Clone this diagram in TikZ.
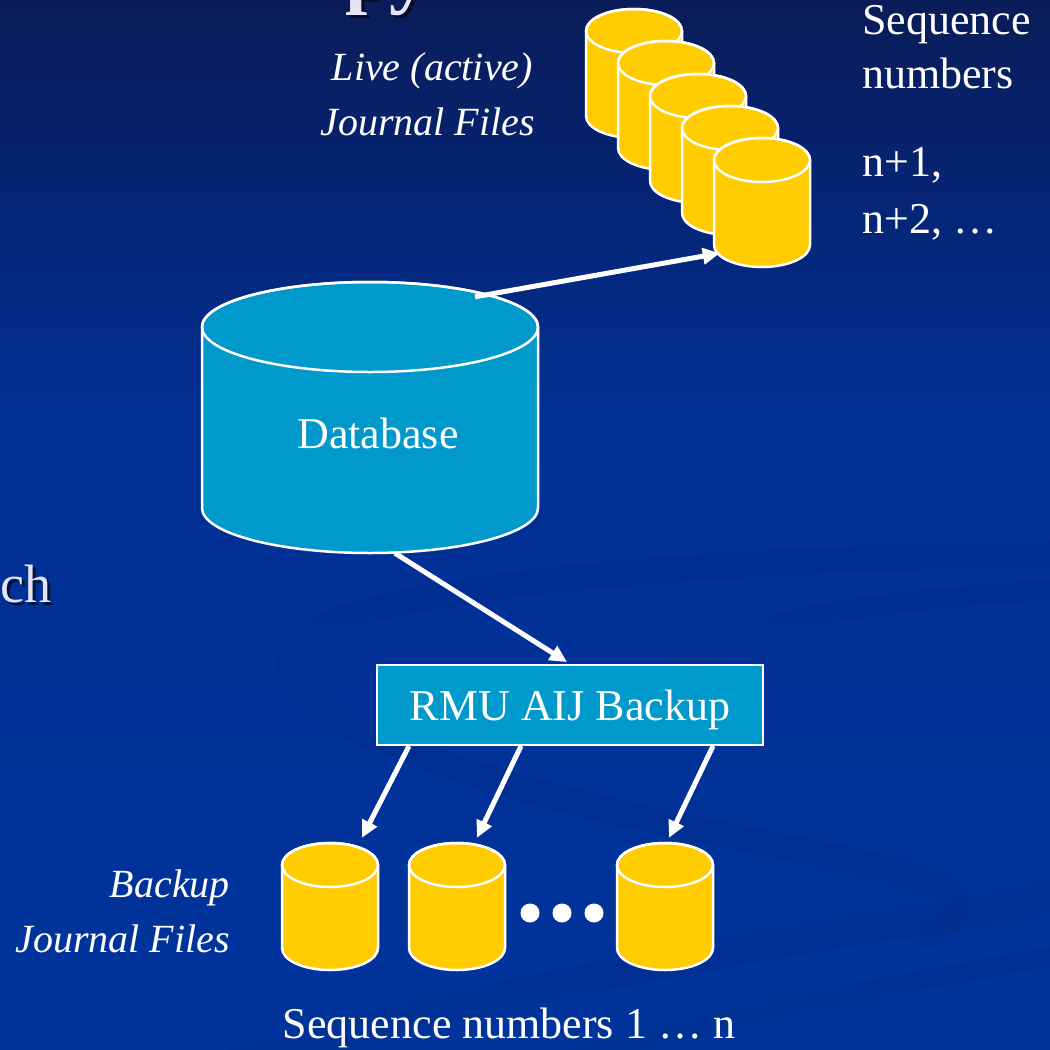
\documentclass[tikz,border=0pt]{standalone}
\usepackage{fontspec}
\setmainfont{Liberation Serif}
\usetikzlibrary{arrows.meta,calc}
\definecolor{bgtop}{HTML}{0A1C58}
\definecolor{bgmid}{HTML}{012F94}
\definecolor{bgbot}{HTML}{00349C}
\definecolor{cylc}{HTML}{FFCC00}
\definecolor{dbc}{HTML}{0099CC}
\definecolor{swoosh}{HTML}{00257A}
\definecolor{titlec}{HTML}{E4E4F6}
\tikzset{
  cylline/.style={draw=white, line width=2.5pt},
  arr/.style={draw=white, line width=5pt, -{Triangle[length=17pt,width=16pt]}},
  txt/.style={text=white, inner sep=0pt, font=\fontsize{44}{52}\selectfont},
  itxt/.style={text=white, inner sep=0pt, font=\fontsize{40}{52}\selectfont\itshape},
  boxnode/.style={draw=white, line width=2pt, fill=dbc, minimum width=386pt, minimum height=80pt, inner sep=0pt, text=white, font=\fontsize{44}{52}\selectfont, text height=30pt, text depth=0pt},
  swo/.style={draw=swoosh, line cap=round, opacity=0.2},
  dotc/.style={fill=white}
}
% name, cx, top-centre y, bottom-centre y (both measured downward), rx, ry, fill
\newcommand\cylnode[7]{%
  \filldraw[cylline, fill=#7] (#2-#5,-#3) -- (#2-#5,-#4)
    arc[start angle=180,end angle=360,x radius=#5,y radius=#6] -- (#2+#5,-#3)
    arc[start angle=0,end angle=180,x radius=#5,y radius=#6] -- cycle;
  \draw[cylline] (#2,-#3) ellipse[x radius=#5,y radius=#6];
  \node[inner sep=0pt, minimum width=2*#5, minimum height=#4-#3+2*#6] (#1) at (#2,{-(#3+#4)/2}) {};
}
\begin{document}
\begin{tikzpicture}[x=1pt,y=1pt]
\useasboundingbox (0,0) rectangle (1050,-1050);
% background
\shade[top color=bgtop, bottom color=bgmid] (0,0) rectangle (1050,-420);
\shade[top color=bgmid, bottom color=bgbot] (0,-420) rectangle (1050,-1050);
% background swooshes
\draw[swo, line width=26pt] (1060,-553) .. controls (700,-560) and (330,-585) .. (292,-650)
   .. controls (260,-720) and (500,-790) .. (700,-830) .. controls (900,-870) and (1010,-885) .. (930,-935);
\draw[swo, line width=20pt] (1060,-590) .. controls (850,-600) and (700,-630) .. (690,-670);
\draw[swo, line width=30pt] (240,-1060) .. controls (600,-960) and (900,-930) .. (1060,-895);
\draw[swo, line width=20pt] (560,-1060) .. controls (800,-1000) and (950,-975) .. (1060,-955);
% partial title and side text
\node[anchor=base west, inner sep=0pt, text=black, opacity=0.6, font=\fontsize{80}{90}\selectfont\bfseries] at (348,-1) {py};
\node[anchor=base west, inner sep=0pt, text=titlec, font=\fontsize{80}{90}\selectfont\bfseries] (title) at (345,2) {py};
\node[anchor=base west, inner sep=0pt, text=black, opacity=0.6, font=\fontsize{54}{60}\selectfont] at (3,-605) {ch};
\node[anchor=base west, inner sep=0pt, text=titlec, font=\fontsize{54}{60}\selectfont] (side) at (0,-602) {ch};
% live journal files
\cylnode{c1}{634}{31}{116}{48}{22}{cylc}
\cylnode{c2}{666}{63}{148}{48}{22}{cylc}
\cylnode{c3}{698}{96}{181}{48}{22}{cylc}
\cylnode{c4}{730}{128}{213}{48}{22}{cylc}
\cylnode{c5}{762}{160}{245}{48}{22}{cylc}
\node[itxt, anchor=base east] (live1) at (533,-80) {Live (active)};
\node[itxt, anchor=base east] (live2) at (535,-135) {Journal Files};
\node[txt, anchor=base west] (seq1) at (862,-34) {Sequence};
\node[txt, anchor=base west] (seq2) at (862,-88) {numbers};
\node[txt, anchor=base west] (seq3) at (862,-176) {n+1,};
\node[txt, anchor=base west] (seq4) at (862,-233) {n+2, \dots};
% database
\cylnode{db}{370}{327}{508}{168}{45}{dbc}
\node[txt, anchor=base] (dbl) at (378,-448) {Database};
% backup box
\node[boxnode] (rmu) at (570,-705) {RMU AIJ Backup};
% backup journal files
\cylnode{ba}{330}{865}{948}{48}{22}{cylc}
\cylnode{bb}{457}{865}{948}{48}{22}{cylc}
\cylnode{bc}{665}{865}{948}{48}{22}{cylc}
\fill[dotc] (530,-913) circle[radius=9.5];
\fill[dotc] (562,-913) circle[radius=9.5];
\fill[dotc] (594,-913) circle[radius=9.5];
\node[itxt, anchor=base east] (bk1) at (230,-897) {Backup};
\node[itxt, anchor=base east] (bk2) at (230,-952) {Journal Files};
\node[txt, anchor=base] (seqb) at (509,-1038) {Sequence numbers 1 \dots\ n};
% connectors
\draw[arr] ([xshift=105pt,yshift=-15pt]db.north) -- ([xshift=6pt,yshift=14pt]c5.south west);
\draw[arr] ([xshift=25pt]db.south) -- ([xshift=-3pt,yshift=2pt]rmu.north);
\draw[arr] ([xshift=33pt]rmu.south west) -- ([xshift=32pt,yshift=5pt]ba.north);
\draw[arr] ([xshift=145pt]rmu.south west) -- ([xshift=20pt,yshift=5pt]bb.north);
\draw[arr] ([xshift=337pt]rmu.south west) -- ([xshift=4pt,yshift=5pt]bc.north);
\end{tikzpicture}
\end{document}
